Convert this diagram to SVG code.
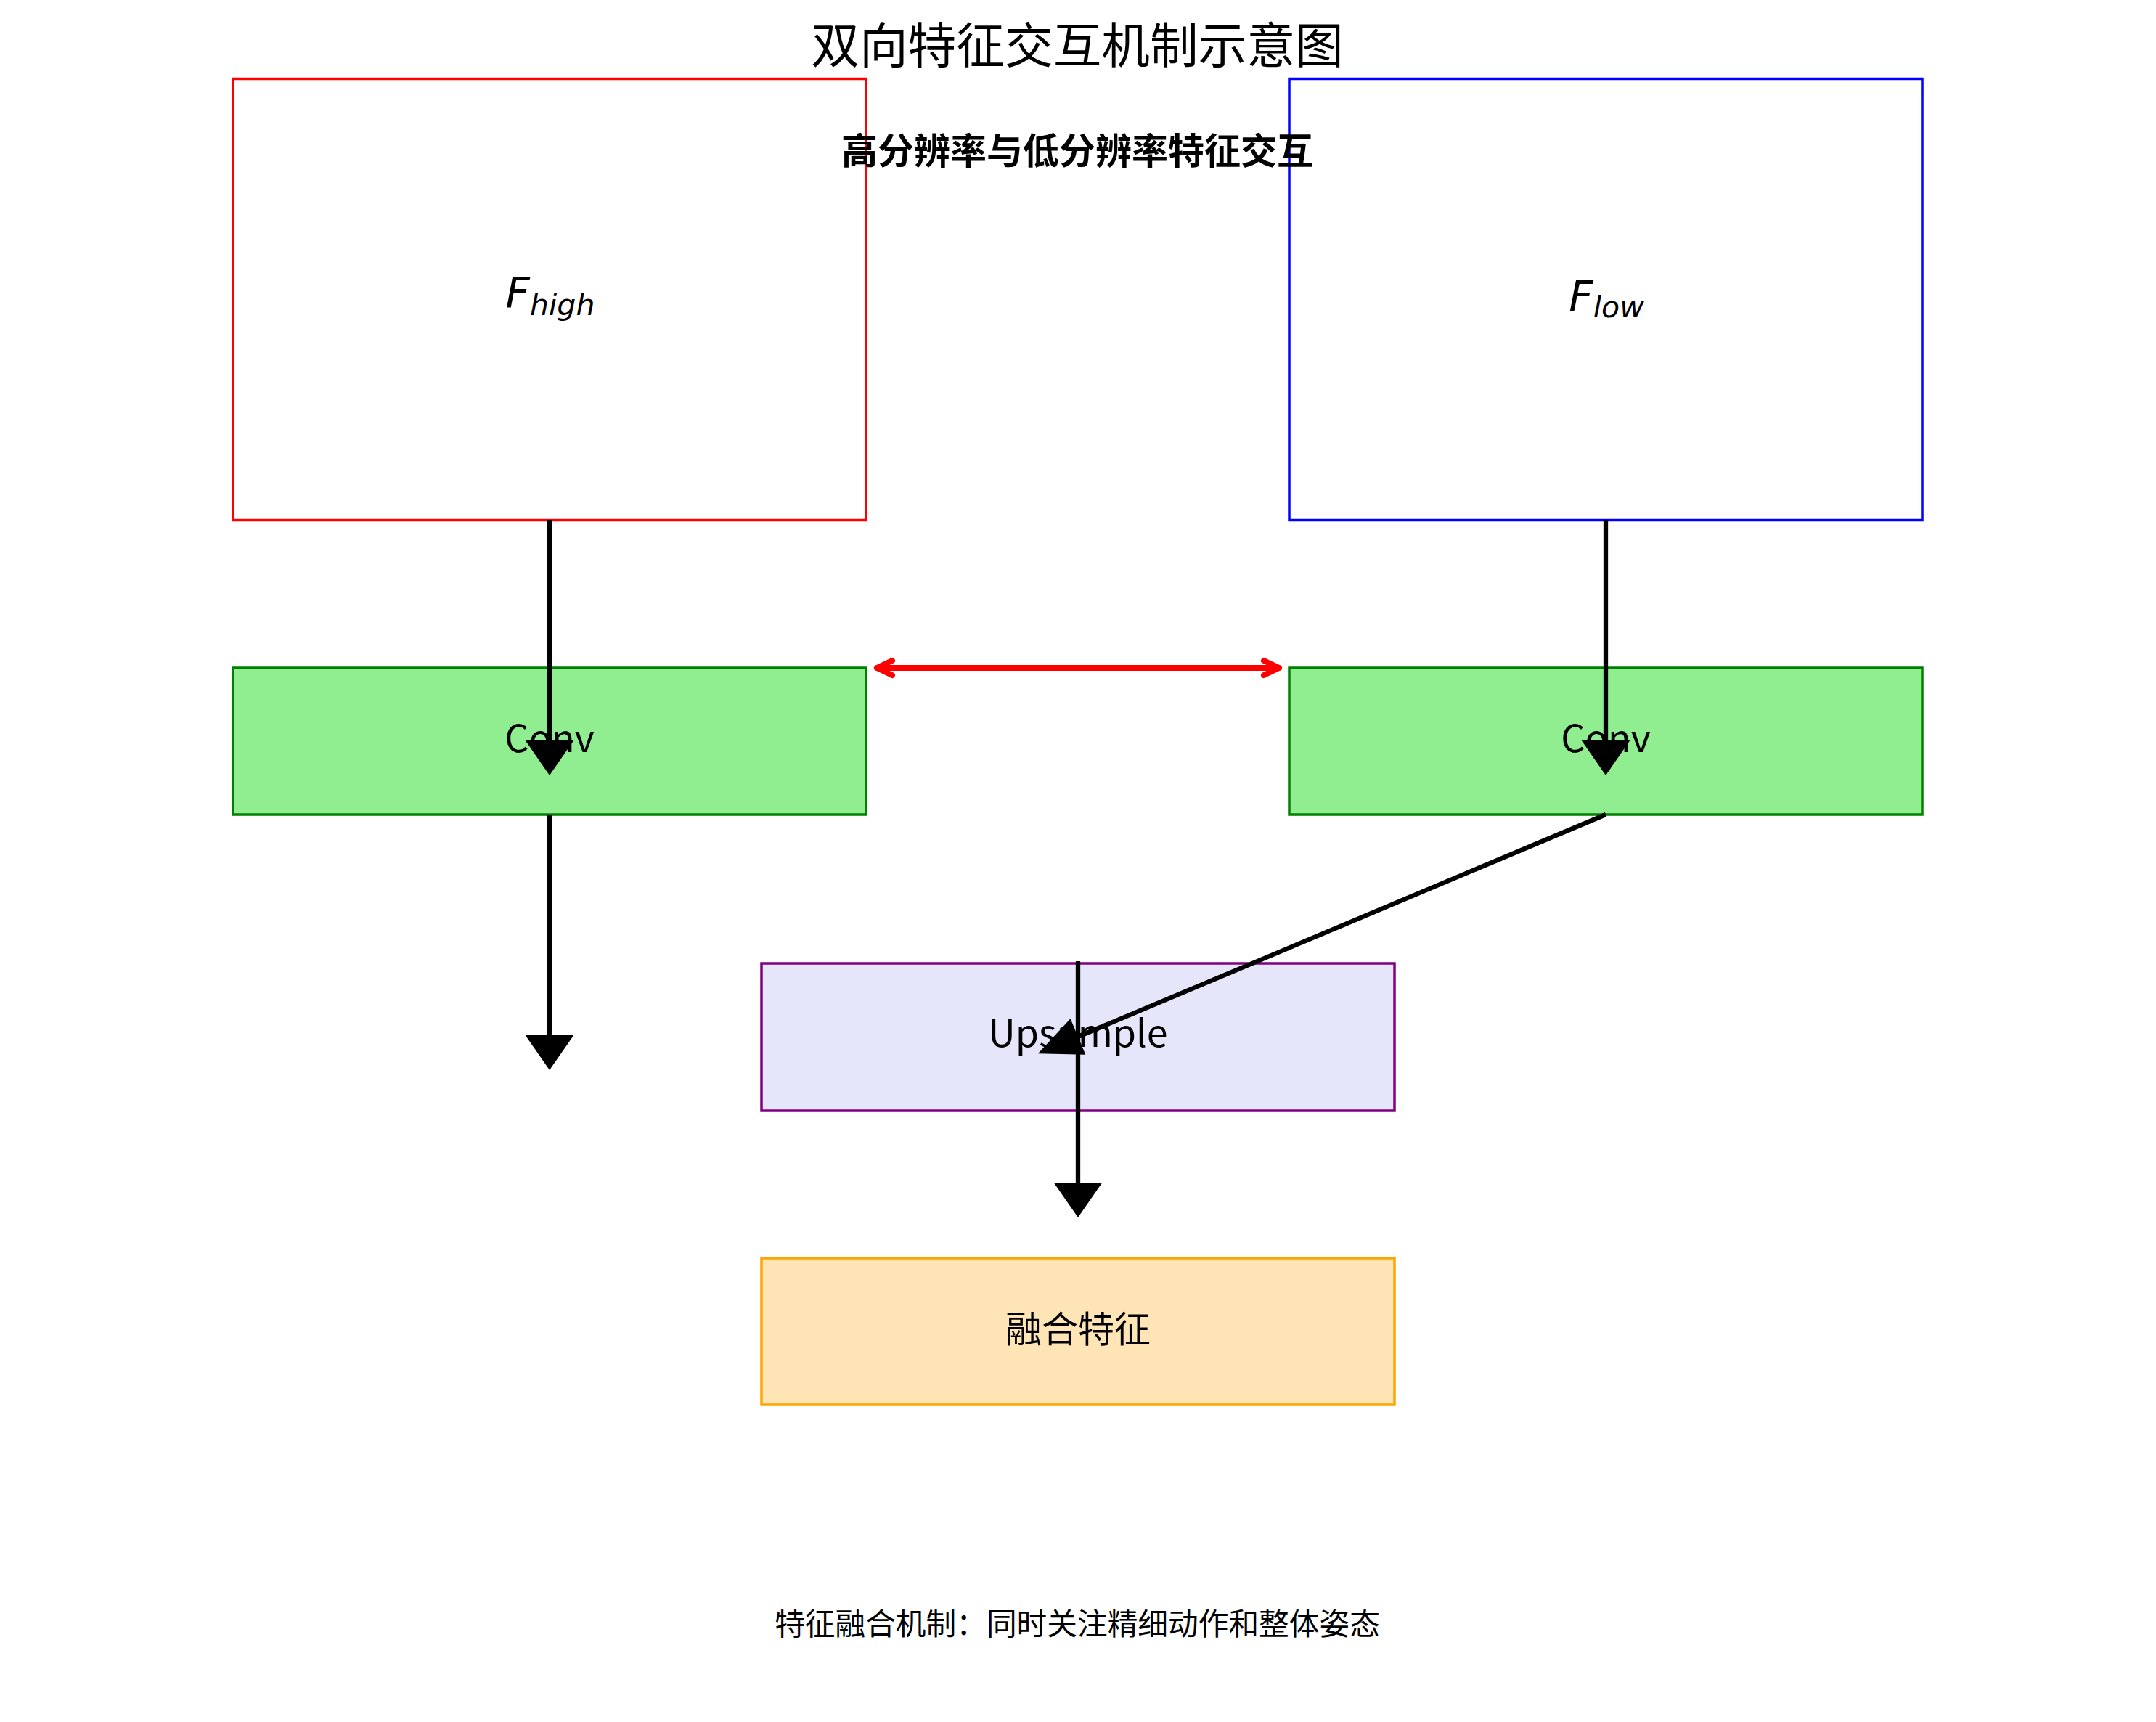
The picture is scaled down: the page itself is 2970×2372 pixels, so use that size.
<svg xmlns="http://www.w3.org/2000/svg" width="2970" height="2372" viewBox="0 0 2970 2372">
<style>
.cjk{font-family:"Noto Sans CJK SC","Noto Sans",sans-serif;fill:#000;text-anchor:middle}
.math{font-family:"DejaVu Sans",sans-serif;font-style:italic;fill:#000;text-anchor:middle}
.box{stroke-width:3.5}
.conn{stroke:#000;stroke-width:6.3;fill:none}
</style>
<defs>
<marker id="head" markerUnits="userSpaceOnUse" markerWidth="50" markerHeight="70" viewBox="0 -33 48 66" refX="0" refY="0" orient="auto" overflow="visible">
<path d="M0,-32 L46,0 L0,32 Z" fill="#000"/>
</marker>
<marker id="headB" markerUnits="userSpaceOnUse" markerWidth="64" markerHeight="60" viewBox="0 -28 62 56" refX="0" refY="0" orient="auto" overflow="visible">
<path d="M0,-26 L58,0 L0,26 Z" fill="#000"/>
</marker>
</defs>
<rect width="2970" height="2372" fill="#fff"/>
<text class="cjk" x="1484" y="87" font-size="66.7">双向特征交互机制示意图</text>
<g id="node-fhigh">
<rect class="box" x="321" y="108.5" width="872" height="608" fill="#fff" stroke="#ff0000"/>
<text class="math" x="758" y="424" font-size="58">F<tspan font-size="41" dy="10">high</tspan></text>
</g>
<g id="node-flow">
<rect class="box" x="1776" y="108.5" width="872" height="608" fill="#fff" stroke="#0000ff"/>
<text class="math" x="2213" y="429" font-size="58">F<tspan font-size="41" dy="8">low</tspan></text>
</g>
<text class="cjk" x="1484" y="226" font-size="50" font-weight="bold">高分辨率与低分辨率特征交互</text>
<g id="node-conv-high">
<rect class="box" x="321" y="920" width="872" height="202" fill="#90ee90" stroke="#008000"/>
<text class="cjk" x="757" y="1036" font-size="52">Conv</text>
</g>
<g id="node-conv-low">
<rect class="box" x="1776" y="920" width="872" height="202" fill="#90ee90" stroke="#008000"/>
<text class="cjk" x="2212" y="1036" font-size="52">Conv</text>
</g>
<g id="node-upsample">
<rect class="box" x="1049" y="1327" width="872" height="203" fill="#e6e6fa" stroke="#800080"/>
<text class="cjk" x="1485" y="1442" font-size="52">Upsample</text>
</g>
<g id="node-fusion">
<rect class="box" x="1049" y="1733" width="872" height="202" fill="#ffe4b5" stroke="#ffa500"/>
<text class="cjk" x="1485" y="1849" font-size="50">融合特征</text>
</g>
<g id="connectors">
<line class="conn" x1="757" y1="716" x2="757" y2="1020" marker-end="url(#head)"/>
<line class="conn" x1="2212" y1="716" x2="2212" y2="1020" marker-end="url(#head)"/>
<line class="conn" x1="757" y1="1122" x2="757" y2="1426" marker-end="url(#head)"/>
<line class="conn" x1="2212" y1="1122" x2="1485" y2="1428" marker-end="url(#headB)"/>
<line class="conn" x1="1485" y1="1324" x2="1485" y2="1629" marker-end="url(#head)"/>
<path d="M1208,920 L1762,920 M1229,910 L1208,920 L1229,930 M1741,910 L1762,920 L1741,930" fill="none" stroke="#ff0000" stroke-width="8" stroke-linecap="round" stroke-linejoin="round"/>
</g>
<text class="cjk" x="1484" y="2252" font-size="41.7">特征融合机制：同时关注精细动作和整体姿态</text>
</svg>
